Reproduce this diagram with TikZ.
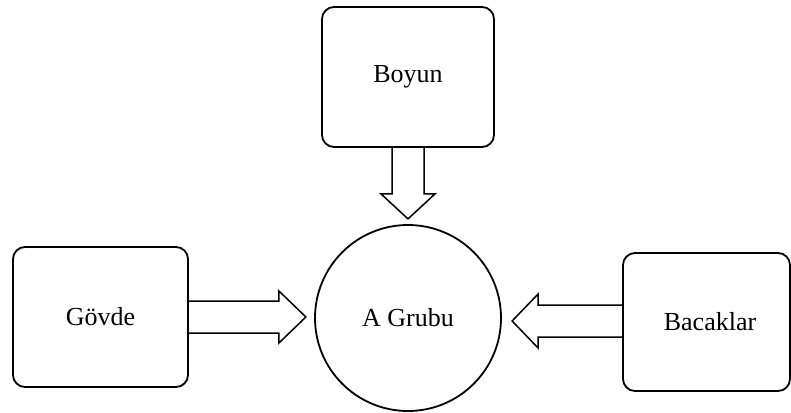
\documentclass[tikz,border=0pt]{standalone}
\usepackage{fontspec}
\setmainfont{Liberation Serif}
\usetikzlibrary{calc}
\begin{document}
\begin{tikzpicture}[x=1pt,y=-1pt,
  box/.style={draw,line width=1.8pt,rounded corners=12pt,inner sep=0pt,font=\fontsize{26}{31}\selectfont},
  blockarrow/.style={draw,line width=1.5pt,line join=miter}]
\useasboundingbox (0,0) rectangle (791,412);
\node[box,minimum width=172pt,minimum height=140pt] (boyun) at (408,77) {Boyun};
\node[box,minimum width=175pt,minimum height=140pt] (govde) at (100.5,317) {Gövde};
\node[box,minimum width=167pt,minimum height=138pt] (bacak) at (706.5,322) {\hspace*{7pt}Bacaklar};
\node[draw,circle,line width=1.8pt,minimum size=186pt,inner sep=0pt,font=\fontsize{26}{31}\selectfont] (grup) at (408,318) {A Grubu};
% top block arrow
\draw[blockarrow] (boyun.south) ++(-16,0) -- ++(0,46) -- ++(-11,0) -- ++(27,25) -- ++(27,-25) -- ++(-11,0) -- ++(0,-46);
% left block arrow
\draw[blockarrow] (govde.east) ++(0,-16) -- ++(90,0) -- ++(0,-10) -- ++(27,26) -- ++(-27,26) -- ++(0,-10) -- ++(-90,0);
% right block arrow
\draw[blockarrow] (bacak.west) ++(0,-17) -- ++(-84,0) -- ++(0,-11) -- ++(-26,27) -- ++(26,27) -- ++(0,-11) -- ++(84,0);
\end{tikzpicture}
\end{document}
